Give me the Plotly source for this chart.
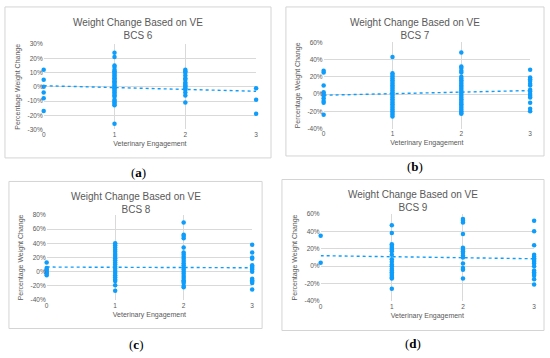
import plotly.graph_objects as go

W, H = 550, 358

# ---------------- data (percentage weight change by veterinary engagement level) -----
bcs6_ve0 = [12, 5, 0, -4, -8, -17]
bcs6_ve1 = [24, 21, 15, 14, 12, 11, 10, 9, 8, 7, 6, 5, 4, 3, 2, 1, 0, -1, -2, -3, -4, -5, -6, -7,
            -9, -10, -11, -12, -13, -26]
bcs6_ve2 = [12, 11, 10, 8, 6, 5, 3, 2, 1, 0, -1, -2, -4, -6, -11]
bcs6_ve3 = [-1, -9, -19]
bcs6_trend = [0.8, -3.1]

bcs7_ve0 = [27, 25, 10, 2, 0, -2, -5, -8, -10, -24]
bcs7_ve1 = [43, 24, 22, 20, 18, 16, 14, 12, 10, 8, 6, 4, 2, 0, -2, -4, -6, -8, -10, -12, -14, -16,
            -18, -20, -22, -24, -26]
bcs7_ve2 = [48, 32, 30, 27, 25, 20, 18, 16, 14, 12, 10, 8, 6, 4, 2, 0, -2, -4, -6, -8, -10, -12,
            -14, -16, -18, -20, -22, -23]
bcs7_ve3 = [28, 19, 17, 15, 12, 10, 5, 3, 0, -2, -4, -10, -17, -20]
bcs7_trend = [-1.4, 4.0]

bcs8_ve0 = [13, 5, 3, 1, -1, -3, -5]
bcs8_ve1 = [40, 37, 34, 31, 28, 25, 22, 19, 16, 13, 10, 7, 4, 1, -2, -5, -8, -11, -13, -19, -27]
bcs8_ve2 = [69, 52, 50, 47, 34, 27, 24, 21, 18, 15, 12, 9, 6, 3, 0, -3, -6, -9, -12, -14, -16,
            -20, -22]
bcs8_ve3 = [38, 27, 20, 18, 9, 7, 5, 3, 0, -10, -12, -14, -16, -25]
bcs8_trend = [6.5, 5.5]

bcs9_ve0 = [35, 4]
bcs9_ve1 = [47, 38, 25, 23, 21, 19, 17, 13, 8, 5, 2, 0, -3, -5, -7, -9, -11, -13, -14, -26]
bcs9_ve2 = [54, 52, 50, 37, 21, 19, 17, 15, 12, 10, 3, -2, -4, -14]
bcs9_ve3 = [52, 40, 24, 13, 11, 9, 7, 5, 3, 0, -5, -7, -9, -11, -15, -21]
bcs9_trend = [12.0, 8.5]

ve_levels = [0, 1, 2, 3]
x_ticks = ["0", "1", "2", "3"]
titles = ["BCS 6", "BCS 7", "BCS 8", "BCS 9"]
panel_labels = ["a", "b", "c", "d"]

y6_vals = [-30, -20, -10, 0, 10, 20, 30]
y6_text = ["-30%", "-20%", "-10%", "0%", "10%", "20%", "30%"]
y7_vals = [-40, -20, 0, 20, 40, 60]
y7_text = ["-40%", "-20%", "0%", "20%", "40%", "60%"]
y8_vals = [-40, -20, 0, 20, 40, 60, 80]
y8_text = ["-40%", "-20%", "0%", "20%", "40%", "60%", "80%"]
y9_vals = [-40, -20, 0, 20, 40, 60]
y9_text = ["-40%", "-20%", "0%", "20%", "40%", "60%"]

panels = [
    dict(levels=[bcs6_ve0, bcs6_ve1, bcs6_ve2, bcs6_ve3], trend=bcs6_trend,
         yv=y6_vals, yt=y6_text,
         plot=(42, 256, 41, 128), box=(3, 271, 3, 157), lab_y=172),
    dict(levels=[bcs7_ve0, bcs7_ve1, bcs7_ve2, bcs7_ve3], trend=bcs7_trend,
         yv=y7_vals, yt=y7_text,
         plot=(324, 532, 39, 127), box=(286, 546, 3, 155), lab_y=166),
    dict(levels=[bcs8_ve0, bcs8_ve1, bcs8_ve2, bcs8_ve3], trend=bcs8_trend,
         yv=y8_vals, yt=y8_text,
         plot=(45, 252, 215, 302), box=(7, 262, 181, 331), lab_y=347),
    dict(levels=[bcs9_ve0, bcs9_ve1, bcs9_ve2, bcs9_ve3], trend=bcs9_trend,
         yv=y9_vals, yt=y9_text,
         plot=(321, 536, 214, 303), box=(282, 546, 179, 333), lab_y=346),
]

DOT = "#0f9dfb"
GRID = "#d9d9d9"
TXT = "#595959"
FONT = "Liberation Sans, Arial, sans-serif"

fig = go.Figure()
layout = dict(width=W, height=H, margin=dict(l=0, r=0, t=0, b=0),
              paper_bgcolor="white", plot_bgcolor="white", showlegend=False,
              shapes=[], annotations=[])


def px(x):
    return x / W


def py(y):
    return 1 - y / H


for i, p in enumerate(panels):
    n = "" if i == 0 else str(i + 1)
    xa, ya = "x" + n, "y" + n
    xs, ys = [], []
    for lvl, vals in zip(ve_levels, p["levels"]):
        xs += [lvl] * len(vals)
        ys += vals
    fig.add_trace(go.Scatter(x=xs, y=ys, mode="markers", xaxis=xa, yaxis=ya,
                             marker=dict(color=DOT, size=4.5), cliponaxis=False))
    fig.add_trace(go.Scatter(x=[ve_levels[0], ve_levels[-1]], y=p["trend"], mode="lines",
                             xaxis=xa, yaxis=ya,
                             line=dict(color=DOT, width=1.4, dash="dot")))
    x0, x1, y0, y1 = p["plot"]
    yv = p["yv"]
    layout["xaxis" + n] = dict(domain=[px(x0), px(x1)], anchor=ya, range=[0, 3],
                               tickvals=ve_levels, ticktext=x_ticks, showgrid=True,
                               gridcolor=GRID, gridwidth=1, zeroline=False, showline=False,
                               ticks="", tickfont=dict(size=6.5, color=TXT, family=FONT),
                               title=dict(text="Veterinary Engagement", standoff=4,
                                          font=dict(size=7, color=TXT, family=FONT)))
    layout["yaxis" + n] = dict(domain=[py(y1), py(y0)], anchor=xa, range=[yv[0], yv[-1]],
                               tickvals=yv, ticktext=p["yt"], showgrid=True,
                               gridcolor=GRID, gridwidth=1, zeroline=False, showline=False,
                               ticks="", tickfont=dict(size=6.5, color=TXT, family=FONT),
                               title=dict(text="Percentage Weight Change", standoff=6,
                                          font=dict(size=7, color=TXT, family=FONT)))
    bx0, bx1, by0, by1 = p["box"]
    layout["shapes"].append(dict(type="rect", xref="paper", yref="paper",
                                 x0=px(bx0), x1=px(bx1), y0=py(by1), y1=py(by0),
                                 line=dict(color="#d4d4d4", width=1), layer="below"))
    layout["annotations"].append(dict(
        text="Weight Change Based on VE<br>" + titles[i], xref="paper", yref="paper",
        x=px((bx0 + bx1) / 2), y=py(by0 + 8), xanchor="center", yanchor="top",
        showarrow=False, font=dict(size=10, color=TXT, family=FONT)))
    layout["annotations"].append(dict(
        text="(<b>" + panel_labels[i] + "</b>)", xref="paper", yref="paper",
        x=px((bx0 + bx1) / 2), y=py(p["lab_y"]), xanchor="center", yanchor="middle",
        showarrow=False, font=dict(size=13, color="black",
                                   family="Liberation Serif, Times New Roman, serif")))

fig.update_layout(**layout)
fig.write_html("out.html", config={"displayModeBar": False},
               post_script="document.body.style.margin='0';"
                           "document.body.style.overflow='hidden';")
